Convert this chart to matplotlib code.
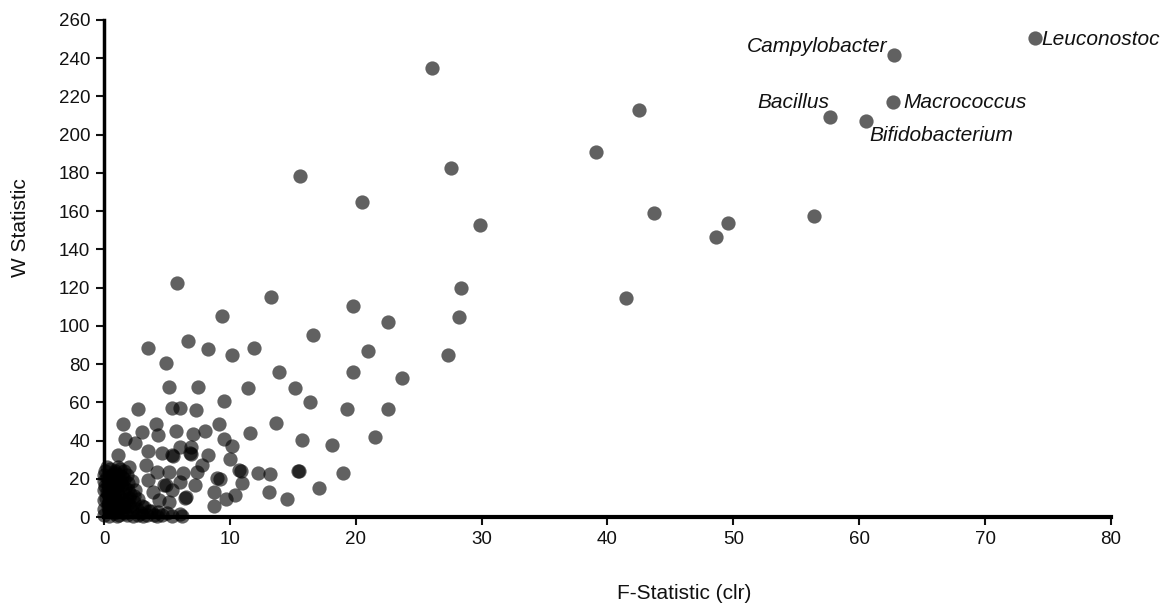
import matplotlib
matplotlib.use('Agg')
import matplotlib.pyplot as plt

plt.rcParams['font.family'] = ['Liberation Sans', 'DejaVu Sans']

# scattered genera (F-statistic clr, W statistic)
f_stat = [74.0, 62.8, 62.7, 57.7, 60.5, 26.05, 42.5, 39.1, 27.6, 15.6, 20.5, 43.7, 29.9,
          49.6, 48.6, 56.4, 41.5, 5.8, 13.3, 28.4, 28.2, 27.3, 22.6, 19.8, 9.4, 16.6,
          3.5, 6.7, 8.3, 10.2, 11.9, 21.0, 4.9, 13.9, 19.8, 5.2, 7.5, 11.4, 15.2, 23.7,
          9.5, 16.4, 2.7, 5.4, 6.0, 7.3, 19.3, 22.6, 1.5, 3.0, 4.1, 5.7, 8.0, 9.1, 11.6,
          13.7, 21.5, 4.3, 1.7, 7.1, 9.5, 15.7, 18.1, 2.5, 10.2, 6.0, 6.9, 1.1, 3.5, 4.6,
          5.4, 5.5, 6.8, 6.9, 8.3, 10.0, 7.8, 3.3, 4.2, 5.2, 6.3, 7.4, 10.7, 10.9, 12.2,
          13.2, 15.4, 15.5, 19.0, 17.1, 13.1, 14.5, 11.0, 9.0, 9.2, 3.5, 4.8, 4.9, 6.0,
          7.2, 8.7, 10.4, 9.7, 8.7, 3.9, 5.4, 6.4, 6.5, 2.7, 4.4, 5.2, 6.2]
w_stat = [250.5, 241.6, 217.0, 209.0, 207.0, 234.8, 213.0, 191.0, 182.5, 178.3, 164.7, 159.0, 152.7,
          153.8, 146.4, 157.4, 114.5, 122.5, 115.0, 119.8, 104.6, 84.7, 102.0, 110.4, 105.0, 95.0,
          88.4, 92.0, 88.0, 85.0, 88.4, 87.0, 80.5, 75.8, 75.8, 68.0, 68.0, 67.5, 67.5, 72.7,
          60.7, 60.0, 56.5, 57.0, 57.0, 56.0, 56.5, 56.5, 48.6, 44.5, 48.6, 45.0, 45.0, 48.6, 44.0,
          49.0, 42.0, 43.0, 41.0, 43.4, 41.0, 40.5, 37.7, 38.7, 37.0, 36.6, 36.6, 32.4, 34.5, 33.5,
          32.4, 32.0, 33.5, 33.0, 32.4, 30.3, 27.2, 27.2, 23.5, 23.5, 23.0, 23.5, 24.5, 24.0, 23.0,
          22.5, 24.0, 24.3, 23.0, 15.2, 13.1, 9.4, 17.8, 20.5, 20.0, 19.4, 16.7, 17.0, 18.3,
          16.7, 13.0, 11.5, 9.4, 5.8, 13.0, 14.0, 10.0, 10.3, 9.4, 8.9, 7.8, 0.5]

# dense cluster near the origin
f_low = [0.0, 0.0, 0.0, 0.0, 0.0, 0.1, 0.2, 0.3, 0.3, 0.3, 0.4, 0.4, 0.5, 0.6, 0.6, 0.7,
         0.7, 0.8, 0.8, 0.9, 1.0, 1.0, 1.1, 1.1, 1.2, 1.2, 1.3, 1.4, 1.4, 1.5, 1.5, 1.6,
         1.7, 1.8, 1.9, 1.9, 2.0, 2.1, 2.2, 2.3, 0.2, 1.1, 0.5, 1.0, 0.15, 0.6, 1.3, 1.8,
         2.4, 2.6, 2.9, 3.2, 3.4, 3.7, 4.0, 4.3, 4.6, 5.0, 5.4, 6.0, 2.0, 2.2, 2.5, 0.4, 1.6,
         0.1, 0.9, 1.4, 0.7, 1.2, 0.3, 2.7, 3.0, 0.5, 0.9, 1.3, 1.7, 0.2, 0.8, 1.5, 2.1,
         0.4, 1.0, 1.6, 0.0, 0.6, 1.2, 1.9, 0.3, 1.1, 1.8, 2.4, 3.1, 3.6, 4.2]
w_low = [19, 14, 9, 4, 1, 24, 21, 17, 12, 7, 3, 0.5, 25, 22, 18, 14,
         10, 6, 2, 24, 20, 16, 12, 8, 4, 1, 25, 21, 17, 13, 9, 5,
         2, 22, 18, 14, 10, 6, 3, 0.5, 26, 26, 5, 0.5, 10, 12, 7, 9,
         8, 4, 2, 5, 1, 3, 1, 2.5, 1, 2, 0.5, 1.5, 26, 19, 14, 15, 24,
         16, 11, 3, 8, 19, 5, 1, 6, 20, 23, 19, 15, 13, 11, 6, 12,
         8, 14, 20, 22, 3, 22, 7, 18, 5, 1, 11, 0.5, 3, 0.5]

labels = ['Leuconostoc', 'Campylobacter', 'Macrococcus', 'Bacillus', 'Bifidobacterium']
label_offsets = [(4, -1, 'left'), (-5, 6, 'right'), (7, 0, 'left'), (-1, 11, 'right'), (3, -10, 'left')]

fig = plt.figure(figsize=(11.74, 6.15), dpi=100)
ax = fig.add_axes([0.0886, 0.1593, 0.8577, 0.8082])

ax.scatter(f_stat, w_stat, s=105, color='black', alpha=0.62, linewidths=0, clip_on=False, zorder=3)
ax.scatter(f_low, w_low, s=105, color='black', alpha=0.62, linewidths=0, clip_on=False, zorder=3)

for i, name in enumerate(labels):
    dx, dy, ha = label_offsets[i]
    ax.annotate(name, (f_stat[i], w_stat[i]), xytext=(dx, dy), textcoords='offset points',
                ha=ha, va='center', fontsize=15, style='italic', color='#111111')

ax.set_xlim(0, 80)
ax.set_ylim(0, 260)
ax.set_xticks(range(0, 81, 10))
ax.set_yticks(range(0, 261, 20))

for side in ['top', 'right']:
    ax.spines[side].set_visible(False)
ax.spines['left'].set_linewidth(2.5)
ax.spines['bottom'].set_linewidth(3)
ax.tick_params(direction='out', length=6, width=1.5, labelsize=13.5, colors='#111111', pad=4)

ax.set_xlabel('F-Statistic (clr)', fontsize=15, color='#111111')
ax.set_ylabel('W Statistic', fontsize=15, color='#111111')
ax.xaxis.set_label_coords(0.576, -0.153)
ax.yaxis.set_label_coords(-0.083, 0.583)
ax.xaxis.label.set_va('center')
ax.yaxis.label.set_va('center')

fig.savefig('out.png', dpi=100)
